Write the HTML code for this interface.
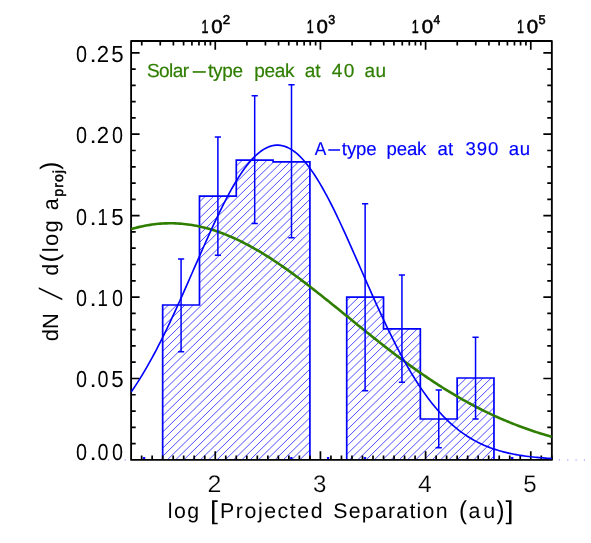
<!DOCTYPE html>
<html><head><meta charset="utf-8"><title>Separation distribution</title>
<style>html,body{margin:0;padding:0;background:#fff;}body{width:591px;height:543px;overflow:hidden;}svg{display:block;will-change:transform;}text{font-family:"Liberation Sans",sans-serif;text-rendering:geometricPrecision;}</style>
</head><body>
<svg width="591" height="543" viewBox="0 0 591 543">
<rect width="591" height="543" fill="#fff"/>
<defs>
<clipPath id="c0"><polygon points="162.67,459.90 162.67,305.00 199.48,305.00 199.48,196.10 236.29,196.10 236.29,160.10 273.10,160.10 273.10,161.80 309.91,161.80 309.91,459.90"/></clipPath>
<clipPath id="c1"><polygon points="346.72,459.90 346.72,297.20 383.53,297.20 383.53,328.80 420.34,328.80 420.34,419.00 457.15,419.00 457.15,378.00 493.96,378.00 493.96,459.90"/></clipPath>
<clipPath id="pc"><rect x="131.10" y="41.00" width="420.75" height="418.90"/></clipPath>
</defs>
<path clip-path="url(#c0)" d="M-100 -136.27L700 -917.47M-100 -128.18L700 -909.38M-100 -120.10L700 -901.30M-100 -112.01L700 -893.21M-100 -103.93L700 -885.13M-100 -95.84L700 -877.04M-100 -87.75L700 -868.95M-100 -79.67L700 -860.87M-100 -71.58L700 -852.78M-100 -63.50L700 -844.70M-100 -55.41L700 -836.61M-100 -47.32L700 -828.52M-100 -39.24L700 -820.44M-100 -31.15L700 -812.35M-100 -23.07L700 -804.27M-100 -14.98L700 -796.18M-100 -6.89L700 -788.09M-100 1.19L700 -780.01M-100 9.28L700 -771.92M-100 17.36L700 -763.84M-100 25.45L700 -755.75M-100 33.54L700 -747.66M-100 41.62L700 -739.58M-100 49.71L700 -731.49M-100 57.79L700 -723.41M-100 65.88L700 -715.32M-100 73.97L700 -707.23M-100 82.05L700 -699.15M-100 90.14L700 -691.06M-100 98.22L700 -682.98M-100 106.31L700 -674.89M-100 114.40L700 -666.80M-100 122.48L700 -658.72M-100 130.57L700 -650.63M-100 138.65L700 -642.55M-100 146.74L700 -634.46M-100 154.83L700 -626.37M-100 162.91L700 -618.29M-100 171.00L700 -610.20M-100 179.08L700 -602.12M-100 187.17L700 -594.03M-100 195.26L700 -585.94M-100 203.34L700 -577.86M-100 211.43L700 -569.77M-100 219.51L700 -561.69M-100 227.60L700 -553.60M-100 235.69L700 -545.51M-100 243.77L700 -537.43M-100 251.86L700 -529.34M-100 259.94L700 -521.26M-100 268.03L700 -513.17M-100 276.12L700 -505.08M-100 284.20L700 -497.00M-100 292.29L700 -488.91M-100 300.37L700 -480.83M-100 308.46L700 -472.74M-100 316.55L700 -464.65M-100 324.63L700 -456.57M-100 332.72L700 -448.48M-100 340.80L700 -440.40M-100 348.89L700 -432.31M-100 356.98L700 -424.22M-100 365.06L700 -416.14M-100 373.15L700 -408.05M-100 381.23L700 -399.97M-100 389.32L700 -391.88M-100 397.41L700 -383.79M-100 405.49L700 -375.71M-100 413.58L700 -367.62M-100 421.66L700 -359.54M-100 429.75L700 -351.45M-100 437.84L700 -343.36M-100 445.92L700 -335.28M-100 454.01L700 -327.19M-100 462.09L700 -319.11M-100 470.18L700 -311.02M-100 478.27L700 -302.93M-100 486.35L700 -294.85M-100 494.44L700 -286.76M-100 502.52L700 -278.68M-100 510.61L700 -270.59M-100 518.70L700 -262.50M-100 526.78L700 -254.42M-100 534.87L700 -246.33M-100 542.95L700 -238.25M-100 551.04L700 -230.16M-100 559.13L700 -222.07M-100 567.21L700 -213.99M-100 575.30L700 -205.90M-100 583.38L700 -197.82M-100 591.47L700 -189.73M-100 599.56L700 -181.64M-100 607.64L700 -173.56M-100 615.73L700 -165.47M-100 623.81L700 -157.39M-100 631.90L700 -149.30M-100 639.99L700 -141.21M-100 648.07L700 -133.13M-100 656.16L700 -125.04M-100 664.24L700 -116.96M-100 672.33L700 -108.87M-100 680.42L700 -100.78M-100 688.50L700 -92.70M-100 696.59L700 -84.61M-100 704.67L700 -76.53M-100 712.76L700 -68.44M-100 720.85L700 -60.35M-100 728.93L700 -52.27M-100 737.02L700 -44.18M-100 745.10L700 -36.10M-100 753.19L700 -28.01M-100 761.28L700 -19.92M-100 769.36L700 -11.84M-100 777.45L700 -3.75M-100 785.53L700 4.33M-100 793.62L700 12.42M-100 801.71L700 20.51M-100 809.79L700 28.59M-100 817.88L700 36.68M-100 825.96L700 44.76M-100 834.05L700 52.85M-100 842.14L700 60.94M-100 850.22L700 69.02M-100 858.31L700 77.11M-100 866.39L700 85.19M-100 874.48L700 93.28M-100 882.57L700 101.37M-100 890.65L700 109.45M-100 898.74L700 117.54M-100 906.82L700 125.62M-100 914.91L700 133.71M-100 923.00L700 141.80M-100 931.08L700 149.88M-100 939.17L700 157.97M-100 947.25L700 166.05M-100 955.34L700 174.14M-100 963.43L700 182.23M-100 971.51L700 190.31M-100 979.60L700 198.40M-100 987.68L700 206.48M-100 995.77L700 214.57M-100 1003.86L700 222.66M-100 1011.94L700 230.74M-100 1020.03L700 238.83M-100 1028.11L700 246.91M-100 1036.20L700 255.00M-100 1044.29L700 263.09M-100 1052.37L700 271.17M-100 1060.46L700 279.26M-100 1068.54L700 287.34M-100 1076.63L700 295.43M-100 1084.72L700 303.52M-100 1092.80L700 311.60M-100 1100.89L700 319.69M-100 1108.97L700 327.77M-100 1117.06L700 335.86M-100 1125.15L700 343.95M-100 1133.23L700 352.03M-100 1141.32L700 360.12M-100 1149.40L700 368.20M-100 1157.49L700 376.29M-100 1165.58L700 384.38M-100 1173.66L700 392.46M-100 1181.75L700 400.55M-100 1189.83L700 408.63M-100 1197.92L700 416.72M-100 1206.01L700 424.81M-100 1214.09L700 432.89M-100 1222.18L700 440.98M-100 1230.26L700 449.06M-100 1238.35L700 457.15M-100 1246.44L700 465.24M-100 1254.52L700 473.32M-100 1262.61L700 481.41M-100 1270.69L700 489.49M-100 1278.78L700 497.58M-100 1286.87L700 505.67M-100 1294.95L700 513.75M-100 1303.04L700 521.84M-100 1311.12L700 529.92M-100 1319.21L700 538.01M-100 1327.30L700 546.10M-100 1335.38L700 554.18M-100 1343.47L700 562.27M-100 1351.55L700 570.35M-100 1359.64L700 578.44M-100 1367.73L700 586.53M-100 1375.81L700 594.61M-100 1383.90L700 602.70M-100 1391.98L700 610.78" stroke="#0000ff" stroke-width="0.7" stroke-opacity="1" fill="none"/>
<path clip-path="url(#c1)" d="M-100 -136.27L700 -917.47M-100 -128.18L700 -909.38M-100 -120.10L700 -901.30M-100 -112.01L700 -893.21M-100 -103.93L700 -885.13M-100 -95.84L700 -877.04M-100 -87.75L700 -868.95M-100 -79.67L700 -860.87M-100 -71.58L700 -852.78M-100 -63.50L700 -844.70M-100 -55.41L700 -836.61M-100 -47.32L700 -828.52M-100 -39.24L700 -820.44M-100 -31.15L700 -812.35M-100 -23.07L700 -804.27M-100 -14.98L700 -796.18M-100 -6.89L700 -788.09M-100 1.19L700 -780.01M-100 9.28L700 -771.92M-100 17.36L700 -763.84M-100 25.45L700 -755.75M-100 33.54L700 -747.66M-100 41.62L700 -739.58M-100 49.71L700 -731.49M-100 57.79L700 -723.41M-100 65.88L700 -715.32M-100 73.97L700 -707.23M-100 82.05L700 -699.15M-100 90.14L700 -691.06M-100 98.22L700 -682.98M-100 106.31L700 -674.89M-100 114.40L700 -666.80M-100 122.48L700 -658.72M-100 130.57L700 -650.63M-100 138.65L700 -642.55M-100 146.74L700 -634.46M-100 154.83L700 -626.37M-100 162.91L700 -618.29M-100 171.00L700 -610.20M-100 179.08L700 -602.12M-100 187.17L700 -594.03M-100 195.26L700 -585.94M-100 203.34L700 -577.86M-100 211.43L700 -569.77M-100 219.51L700 -561.69M-100 227.60L700 -553.60M-100 235.69L700 -545.51M-100 243.77L700 -537.43M-100 251.86L700 -529.34M-100 259.94L700 -521.26M-100 268.03L700 -513.17M-100 276.12L700 -505.08M-100 284.20L700 -497.00M-100 292.29L700 -488.91M-100 300.37L700 -480.83M-100 308.46L700 -472.74M-100 316.55L700 -464.65M-100 324.63L700 -456.57M-100 332.72L700 -448.48M-100 340.80L700 -440.40M-100 348.89L700 -432.31M-100 356.98L700 -424.22M-100 365.06L700 -416.14M-100 373.15L700 -408.05M-100 381.23L700 -399.97M-100 389.32L700 -391.88M-100 397.41L700 -383.79M-100 405.49L700 -375.71M-100 413.58L700 -367.62M-100 421.66L700 -359.54M-100 429.75L700 -351.45M-100 437.84L700 -343.36M-100 445.92L700 -335.28M-100 454.01L700 -327.19M-100 462.09L700 -319.11M-100 470.18L700 -311.02M-100 478.27L700 -302.93M-100 486.35L700 -294.85M-100 494.44L700 -286.76M-100 502.52L700 -278.68M-100 510.61L700 -270.59M-100 518.70L700 -262.50M-100 526.78L700 -254.42M-100 534.87L700 -246.33M-100 542.95L700 -238.25M-100 551.04L700 -230.16M-100 559.13L700 -222.07M-100 567.21L700 -213.99M-100 575.30L700 -205.90M-100 583.38L700 -197.82M-100 591.47L700 -189.73M-100 599.56L700 -181.64M-100 607.64L700 -173.56M-100 615.73L700 -165.47M-100 623.81L700 -157.39M-100 631.90L700 -149.30M-100 639.99L700 -141.21M-100 648.07L700 -133.13M-100 656.16L700 -125.04M-100 664.24L700 -116.96M-100 672.33L700 -108.87M-100 680.42L700 -100.78M-100 688.50L700 -92.70M-100 696.59L700 -84.61M-100 704.67L700 -76.53M-100 712.76L700 -68.44M-100 720.85L700 -60.35M-100 728.93L700 -52.27M-100 737.02L700 -44.18M-100 745.10L700 -36.10M-100 753.19L700 -28.01M-100 761.28L700 -19.92M-100 769.36L700 -11.84M-100 777.45L700 -3.75M-100 785.53L700 4.33M-100 793.62L700 12.42M-100 801.71L700 20.51M-100 809.79L700 28.59M-100 817.88L700 36.68M-100 825.96L700 44.76M-100 834.05L700 52.85M-100 842.14L700 60.94M-100 850.22L700 69.02M-100 858.31L700 77.11M-100 866.39L700 85.19M-100 874.48L700 93.28M-100 882.57L700 101.37M-100 890.65L700 109.45M-100 898.74L700 117.54M-100 906.82L700 125.62M-100 914.91L700 133.71M-100 923.00L700 141.80M-100 931.08L700 149.88M-100 939.17L700 157.97M-100 947.25L700 166.05M-100 955.34L700 174.14M-100 963.43L700 182.23M-100 971.51L700 190.31M-100 979.60L700 198.40M-100 987.68L700 206.48M-100 995.77L700 214.57M-100 1003.86L700 222.66M-100 1011.94L700 230.74M-100 1020.03L700 238.83M-100 1028.11L700 246.91M-100 1036.20L700 255.00M-100 1044.29L700 263.09M-100 1052.37L700 271.17M-100 1060.46L700 279.26M-100 1068.54L700 287.34M-100 1076.63L700 295.43M-100 1084.72L700 303.52M-100 1092.80L700 311.60M-100 1100.89L700 319.69M-100 1108.97L700 327.77M-100 1117.06L700 335.86M-100 1125.15L700 343.95M-100 1133.23L700 352.03M-100 1141.32L700 360.12M-100 1149.40L700 368.20M-100 1157.49L700 376.29M-100 1165.58L700 384.38M-100 1173.66L700 392.46M-100 1181.75L700 400.55M-100 1189.83L700 408.63M-100 1197.92L700 416.72M-100 1206.01L700 424.81M-100 1214.09L700 432.89M-100 1222.18L700 440.98M-100 1230.26L700 449.06M-100 1238.35L700 457.15M-100 1246.44L700 465.24M-100 1254.52L700 473.32M-100 1262.61L700 481.41M-100 1270.69L700 489.49M-100 1278.78L700 497.58M-100 1286.87L700 505.67M-100 1294.95L700 513.75M-100 1303.04L700 521.84M-100 1311.12L700 529.92M-100 1319.21L700 538.01M-100 1327.30L700 546.10M-100 1335.38L700 554.18M-100 1343.47L700 562.27M-100 1351.55L700 570.35M-100 1359.64L700 578.44M-100 1367.73L700 586.53M-100 1375.81L700 594.61M-100 1383.90L700 602.70M-100 1391.98L700 610.78" stroke="#0000ff" stroke-width="0.7" stroke-opacity="1" fill="none"/>
<rect x="107.90" y="459.3" width="1.2" height="1.2" fill="#9a9aff"/><rect x="116.25" y="459.3" width="1.2" height="1.2" fill="#9a9aff"/><rect x="124.60" y="459.3" width="1.2" height="1.2" fill="#9a9aff"/><rect x="558.80" y="459.3" width="1.2" height="1.2" fill="#9a9aff"/><rect x="567.15" y="459.3" width="1.2" height="1.2" fill="#9a9aff"/><rect x="575.50" y="459.3" width="1.2" height="1.2" fill="#9a9aff"/><rect x="583.85" y="459.3" width="1.2" height="1.2" fill="#9a9aff"/>
<polyline points="162.67,459.90 162.67,305.00 199.48,305.00 199.48,196.10 236.29,196.10 236.29,160.10 273.10,160.10 273.10,161.80 309.91,161.80 309.91,459.90" fill="none" stroke="#0000ff" stroke-width="1.7" stroke-linejoin="miter"/>
<polyline points="346.72,459.90 346.72,297.20 383.53,297.20 383.53,328.80 420.34,328.80 420.34,419.00 457.15,419.00 457.15,378.00 493.96,378.00 493.96,459.90" fill="none" stroke="#0000ff" stroke-width="1.7" stroke-linejoin="miter"/>
<path d="M141.64 459.90L141.64 455.40M152.15 459.90L152.15 455.40M162.67 459.90L162.67 455.40M173.19 459.90L173.19 455.40M183.71 459.90L183.71 455.40M194.22 459.90L194.22 455.40M204.74 459.90L204.74 455.40M215.26 459.90L215.26 451.20M225.77 459.90L225.77 455.40M236.29 459.90L236.29 455.40M246.81 459.90L246.81 455.40M257.32 459.90L257.32 455.40M267.84 459.90L267.84 455.40M278.36 459.90L278.36 455.40M288.88 459.90L288.88 455.40M299.39 459.90L299.39 455.40M309.91 459.90L309.91 455.40M320.43 459.90L320.43 451.20M330.94 459.90L330.94 455.40M341.46 459.90L341.46 455.40M351.98 459.90L351.98 455.40M362.49 459.90L362.49 455.40M373.01 459.90L373.01 455.40M383.53 459.90L383.53 455.40M394.05 459.90L394.05 455.40M404.56 459.90L404.56 455.40M415.08 459.90L415.08 455.40M425.60 459.90L425.60 451.20M436.11 459.90L436.11 455.40M446.63 459.90L446.63 455.40M457.15 459.90L457.15 455.40M467.66 459.90L467.66 455.40M478.18 459.90L478.18 455.40M488.70 459.90L488.70 455.40M499.22 459.90L499.22 455.40M509.73 459.90L509.73 455.40M520.25 459.90L520.25 455.40M530.77 459.90L530.77 451.20M541.28 459.90L541.28 455.40M551.80 459.90L551.80 455.40M141.75 41.00L141.75 45.50M160.26 41.00L160.26 45.50M173.40 41.00L173.40 45.50M183.60 41.00L183.60 45.50M191.92 41.00L191.92 45.50M198.96 41.00L198.96 45.50M205.06 41.00L205.06 45.50M210.44 41.00L210.44 45.50M215.26 41.00L215.26 49.70M246.92 41.00L246.92 45.50M265.43 41.00L265.43 45.50M278.57 41.00L278.57 45.50M288.77 41.00L288.77 45.50M297.09 41.00L297.09 45.50M304.13 41.00L304.13 45.50M310.23 41.00L310.23 45.50M315.61 41.00L315.61 45.50M320.43 41.00L320.43 49.70M352.09 41.00L352.09 45.50M370.60 41.00L370.60 45.50M383.74 41.00L383.74 45.50M393.94 41.00L393.94 45.50M402.26 41.00L402.26 45.50M409.30 41.00L409.30 45.50M415.40 41.00L415.40 45.50M420.78 41.00L420.78 45.50M425.60 41.00L425.60 49.70M457.26 41.00L457.26 45.50M475.77 41.00L475.77 45.50M488.91 41.00L488.91 45.50M499.11 41.00L499.11 45.50M507.43 41.00L507.43 45.50M514.47 41.00L514.47 45.50M520.57 41.00L520.57 45.50M525.95 41.00L525.95 45.50M530.77 41.00L530.77 49.70M131.10 443.62L135.70 443.62M551.85 443.62L547.25 443.62M131.10 427.33L135.70 427.33M551.85 427.33L547.25 427.33M131.10 411.05L135.70 411.05M551.85 411.05L547.25 411.05M131.10 394.76L135.70 394.76M551.85 394.76L547.25 394.76M131.10 378.48L139.60 378.48M551.85 378.48L543.35 378.48M131.10 362.20L135.70 362.20M551.85 362.20L547.25 362.20M131.10 345.91L135.70 345.91M551.85 345.91L547.25 345.91M131.10 329.63L135.70 329.63M551.85 329.63L547.25 329.63M131.10 313.34L135.70 313.34M551.85 313.34L547.25 313.34M131.10 297.06L139.60 297.06M551.85 297.06L543.35 297.06M131.10 280.78L135.70 280.78M551.85 280.78L547.25 280.78M131.10 264.49L135.70 264.49M551.85 264.49L547.25 264.49M131.10 248.21L135.70 248.21M551.85 248.21L547.25 248.21M131.10 231.92L135.70 231.92M551.85 231.92L547.25 231.92M131.10 215.64L139.60 215.64M551.85 215.64L543.35 215.64M131.10 199.36L135.70 199.36M551.85 199.36L547.25 199.36M131.10 183.07L135.70 183.07M551.85 183.07L547.25 183.07M131.10 166.79L135.70 166.79M551.85 166.79L547.25 166.79M131.10 150.50L135.70 150.50M551.85 150.50L547.25 150.50M131.10 134.22L139.60 134.22M551.85 134.22L543.35 134.22M131.10 117.94L135.70 117.94M551.85 117.94L547.25 117.94M131.10 101.65L135.70 101.65M551.85 101.65L547.25 101.65M131.10 85.37L135.70 85.37M551.85 85.37L547.25 85.37M131.10 69.08L135.70 69.08M551.85 69.08L547.25 69.08M131.10 52.80L139.60 52.80M551.85 52.80L543.35 52.80" stroke="#000" stroke-width="1.7" fill="none"/>
<rect x="131.10" y="41.00" width="420.75" height="418.90" fill="none" stroke="#000" stroke-width="1.85" stroke-linejoin="round"/>
<g clip-path="url(#pc)">
<polyline points="131.12,229.07 133.22,228.47 135.33,227.91 137.43,227.38 139.53,226.88 141.64,226.41 143.74,225.97 145.84,225.57 147.95,225.20 150.05,224.86 152.15,224.55 154.26,224.28 156.36,224.04 158.46,223.83 160.57,223.66 162.67,223.52 164.77,223.41 166.88,223.34 168.98,223.30 171.08,223.30 173.19,223.32 175.29,223.38 177.39,223.48 179.50,223.61 181.60,223.77 183.71,223.96 185.81,224.19 187.91,224.45 190.02,224.74 192.12,225.07 194.22,225.43 196.33,225.82 198.43,226.24 200.53,226.70 202.64,227.19 204.74,227.71 206.84,228.26 208.95,228.85 211.05,229.46 213.15,230.11 215.26,230.78 217.36,231.49 219.46,232.23 221.57,232.99 223.67,233.79 225.77,234.61 227.88,235.47 229.98,236.35 232.08,237.26 234.19,238.20 236.29,239.16 238.39,240.15 240.50,241.17 242.60,242.22 244.70,243.29 246.81,244.38 248.91,245.50 251.01,246.65 253.12,247.82 255.22,249.01 257.32,250.23 259.43,251.46 261.53,252.72 263.63,254.00 265.74,255.31 267.84,256.63 269.94,257.97 272.05,259.33 274.15,260.72 276.25,262.12 278.36,263.53 280.46,264.97 282.56,266.42 284.67,267.89 286.77,269.37 288.88,270.87 290.98,272.39 293.08,273.92 295.19,275.46 297.29,277.02 299.39,278.58 301.50,280.16 303.60,281.75 305.70,283.36 307.81,284.97 309.91,286.59 312.01,288.22 314.12,289.86 316.22,291.51 318.32,293.17 320.43,294.83 322.53,296.50 324.63,298.18 326.74,299.86 328.84,301.55 330.94,303.24 333.05,304.93 335.15,306.63 337.25,308.33 339.36,310.03 341.46,311.74 343.56,313.45 345.67,315.15 347.77,316.86 349.87,318.57 351.98,320.27 354.08,321.98 356.18,323.68 358.29,325.39 360.39,327.09 362.49,328.78 364.60,330.48 366.70,332.17 368.80,333.85 370.91,335.53 373.01,337.21 375.11,338.88 377.22,340.54 379.32,342.20 381.42,343.85 383.53,345.50 385.63,347.14 387.73,348.77 389.84,350.39 391.94,352.00 394.05,353.60 396.15,355.20 398.25,356.79 400.36,358.36 402.46,359.93 404.56,361.49 406.67,363.03 408.77,364.57 410.87,366.09 412.98,367.60 415.08,369.10 417.18,370.59 419.29,372.07 421.39,373.54 423.49,374.99 425.60,376.43 427.70,377.86 429.80,379.27 431.91,380.67 434.01,382.06 436.11,383.43 438.22,384.80 440.32,386.14 442.42,387.48 444.53,388.79 446.63,390.10 448.73,391.39 450.84,392.67 452.94,393.93 455.04,395.18 457.15,396.41 459.25,397.63 461.35,398.83 463.46,400.02 465.56,401.19 467.66,402.35 469.77,403.49 471.87,404.62 473.97,405.74 476.08,406.84 478.18,407.92 480.28,408.99 482.39,410.05 484.49,411.08 486.59,412.11 488.70,413.12 490.80,414.11 492.90,415.09 495.01,416.06 497.11,417.01 499.22,417.95 501.32,418.87 503.42,419.77 505.53,420.67 507.63,421.54 509.73,422.41 511.84,423.26 513.94,424.09 516.04,424.91 518.15,425.72 520.25,426.51 522.35,427.29 524.46,428.06 526.56,428.81 528.66,429.55 530.77,430.27 532.87,430.99 534.97,431.68 537.08,432.37 539.18,433.04 541.28,433.70 543.39,434.35 545.49,434.99 547.59,435.61 549.70,436.22 551.80,436.82" fill="none" stroke="#2f7e00" stroke-width="2.6"/>
<polyline points="131.12,392.01 133.22,388.97 135.33,385.84 137.43,382.62 139.53,379.32 141.64,375.92 143.74,372.44 145.84,368.87 147.95,365.21 150.05,361.47 152.15,357.65 154.26,353.75 156.36,349.77 158.46,345.71 160.57,341.57 162.67,337.37 164.77,333.09 166.88,328.75 168.98,324.35 171.08,319.89 173.19,315.37 175.29,310.80 177.39,306.18 179.50,301.53 181.60,296.83 183.71,292.10 185.81,287.35 187.91,282.57 190.02,277.78 192.12,272.97 194.22,268.16 196.33,263.36 198.43,258.55 200.53,253.77 202.64,249.00 204.74,244.26 206.84,239.55 208.95,234.88 211.05,230.26 213.15,225.70 215.26,221.19 217.36,216.75 219.46,212.39 221.57,208.11 223.67,203.91 225.77,199.81 227.88,195.82 229.98,191.93 232.08,188.16 234.19,184.51 236.29,180.99 238.39,177.60 240.50,174.35 242.60,171.25 244.70,168.30 246.81,165.50 248.91,162.87 251.01,160.41 253.12,158.11 255.22,156.00 257.32,154.06 259.43,152.30 261.53,150.73 263.63,149.35 265.74,148.16 267.84,147.16 269.94,146.37 272.05,145.76 274.15,145.36 276.25,145.16 278.36,145.15 280.46,145.35 282.56,145.74 284.67,146.34 286.77,147.13 288.88,148.12 290.98,149.30 293.08,150.67 295.19,152.23 297.29,153.98 299.39,155.91 301.50,158.03 303.60,160.31 305.70,162.77 307.81,165.40 309.91,168.18 312.01,171.13 314.12,174.22 316.22,177.47 318.32,180.85 320.43,184.37 322.53,188.01 324.63,191.78 326.74,195.66 328.84,199.65 330.94,203.75 333.05,207.94 335.15,212.22 337.25,216.58 339.36,221.01 341.46,225.51 343.56,230.08 345.67,234.70 347.77,239.36 349.87,244.07 351.98,248.81 354.08,253.58 356.18,258.36 358.29,263.16 360.39,267.97 362.49,272.78 364.60,277.59 366.70,282.38 368.80,287.16 370.91,291.92 373.01,296.64 375.11,301.34 377.22,306.00 379.32,310.62 381.42,315.19 383.53,319.71 385.63,324.17 387.73,328.58 389.84,332.92 391.94,337.20 394.05,341.40 396.15,345.54 398.25,349.60 400.36,353.59 402.46,357.50 404.56,361.32 406.67,365.07 408.77,368.72 410.87,372.30 412.98,375.78 415.08,379.18 417.18,382.49 419.29,385.72 421.39,388.85 423.49,391.89 425.60,394.85 427.70,397.71 429.80,400.49 431.91,403.18 434.01,405.78 436.11,408.30 438.22,410.73 440.32,413.07 442.42,415.34 444.53,417.51 446.63,419.61 448.73,421.63 450.84,423.57 452.94,425.44 455.04,427.23 457.15,428.94 459.25,430.59 461.35,432.16 463.46,433.67 465.56,435.11 467.66,436.48 469.77,437.80 471.87,439.05 473.97,440.25 476.08,441.39 478.18,442.47 480.28,443.50 482.39,444.48 484.49,445.41 486.59,446.29 488.70,447.13 490.80,447.92 492.90,448.67 495.01,449.38 497.11,450.05 499.22,450.69 501.32,451.29 503.42,451.85 505.53,452.39 507.63,452.89 509.73,453.36 511.84,453.81 513.94,454.22 516.04,454.62 518.15,454.99 520.25,455.33 522.35,455.66 524.46,455.96 526.56,456.24 528.66,456.51 530.77,456.76 532.87,456.99 534.97,457.21 537.08,457.41 539.18,457.60 541.28,457.77 543.39,457.94 545.49,458.09 547.59,458.23 549.70,458.36 551.80,458.48" fill="none" stroke="#0000ff" stroke-width="1.65"/>
</g>
<path d="M181.08 258.90L181.08 351.80M177.98 258.90L184.18 258.90M177.98 351.80L184.18 351.80M217.89 137.10L217.89 255.20M214.79 137.10L220.99 137.10M214.79 255.20L220.99 255.20M254.69 95.80L254.69 223.40M251.59 95.80L257.79 95.80M251.59 223.40L257.79 223.40M291.50 84.80L291.50 237.80M288.40 84.80L294.60 84.80M288.40 237.80L294.60 237.80M365.12 203.80L365.12 390.70M362.02 203.80L368.22 203.80M362.02 390.70L368.22 390.70M401.93 275.10L401.93 382.30M398.83 275.10L405.03 275.10M398.83 382.30L405.03 382.30M438.74 389.90L438.74 447.80M435.64 389.90L441.84 389.90M435.64 447.80L441.84 447.80M475.55 337.30L475.55 419.10M472.45 337.30L478.65 337.30M472.45 419.10L478.65 419.10" stroke="#0000ff" stroke-width="1.5" fill="none"/>
<rect x="142.87" y="456.9" width="2.4" height="2.2" rx="0.6" fill="#0000ff"/>
<rect x="290.10" y="456.9" width="2.4" height="2.2" rx="0.6" fill="#0000ff"/>
<rect x="326.91" y="456.9" width="2.4" height="2.2" rx="0.6" fill="#0000ff"/>
<rect x="363.72" y="456.9" width="2.4" height="2.2" rx="0.6" fill="#0000ff"/>
<rect x="510.96" y="456.9" width="2.4" height="2.2" rx="0.6" fill="#0000ff"/>
<g><text transform="translate(75.96,460.40) scale(0.8496,1)" font-size="23.30" fill="#000">0</text><text transform="translate(89.46,460.40) scale(1.1159,1)" font-size="23.30" fill="#000">.</text><text transform="translate(97.56,460.40) scale(0.8496,1)" font-size="23.30" fill="#000">0</text><text transform="translate(112.01,460.40) scale(0.8496,1)" font-size="23.30" fill="#000">0</text></g>
<g><text transform="translate(75.96,387.48) scale(0.8496,1)" font-size="23.30" fill="#000">0</text><text transform="translate(89.46,387.48) scale(1.1159,1)" font-size="23.30" fill="#000">.</text><text transform="translate(97.56,387.48) scale(0.8496,1)" font-size="23.30" fill="#000">0</text><text transform="translate(111.21,387.48) scale(0.9567,1)" font-size="23.30" fill="#000">5</text></g>
<g><text transform="translate(75.96,306.06) scale(0.8496,1)" font-size="23.30" fill="#000">0</text><text transform="translate(89.46,306.06) scale(1.1159,1)" font-size="23.30" fill="#000">.</text><text transform="translate(97.60,306.06) scale(0.7998,1)" font-size="23.30" fill="#000">1</text><text transform="translate(112.01,306.06) scale(0.8496,1)" font-size="23.30" fill="#000">0</text></g>
<g><text transform="translate(75.96,224.64) scale(0.8496,1)" font-size="23.30" fill="#000">0</text><text transform="translate(89.46,224.64) scale(1.1159,1)" font-size="23.30" fill="#000">.</text><text transform="translate(97.60,224.64) scale(0.7998,1)" font-size="23.30" fill="#000">1</text><text transform="translate(111.21,224.64) scale(0.9567,1)" font-size="23.30" fill="#000">5</text></g>
<g><text transform="translate(75.96,143.22) scale(0.8496,1)" font-size="23.30" fill="#000">0</text><text transform="translate(89.46,143.22) scale(1.1159,1)" font-size="23.30" fill="#000">.</text><text transform="translate(96.79,143.22) scale(0.9517,1)" font-size="23.30" fill="#000">2</text><text transform="translate(112.01,143.22) scale(0.8496,1)" font-size="23.30" fill="#000">0</text></g>
<g><text transform="translate(75.96,61.80) scale(0.8496,1)" font-size="23.30" fill="#000">0</text><text transform="translate(89.46,61.80) scale(1.1159,1)" font-size="23.30" fill="#000">.</text><text transform="translate(96.79,61.80) scale(0.9517,1)" font-size="23.30" fill="#000">2</text><text transform="translate(111.21,61.80) scale(0.9567,1)" font-size="23.30" fill="#000">5</text></g>
<text transform="translate(207.56,491.80) scale(1.0417,1)" font-size="24.00" fill="#000" stroke="#fff" stroke-width="0.25">2</text>
<text transform="translate(313.10,491.80) scale(1.0034,1)" font-size="24.00" fill="#000" stroke="#fff" stroke-width="0.25">3</text>
<text transform="translate(418.10,491.80) scale(1.0294,1)" font-size="24.00" fill="#000" stroke="#fff" stroke-width="0.25">4</text>
<text transform="translate(523.30,491.80) scale(1.0069,1)" font-size="24.00" fill="#000" stroke="#fff" stroke-width="0.25">5</text>
<g><text transform="translate(201.53,33.30) scale(0.6649,1)" font-size="18.80" fill="#000" stroke="#000" stroke-width="0.55">1</text><text transform="translate(211.29,33.30) scale(1.0855,1)" font-size="18.80" fill="#000" stroke="#000" stroke-width="0.55">0</text><text transform="translate(222.84,24.30) scale(1.0360,1)" font-size="12.80" fill="#000" stroke="#000" stroke-width="0.55">2</text></g>
<g><text transform="translate(306.70,33.30) scale(0.6649,1)" font-size="18.80" fill="#000" stroke="#000" stroke-width="0.55">1</text><text transform="translate(316.46,33.30) scale(1.0855,1)" font-size="18.80" fill="#000" stroke="#000" stroke-width="0.55">0</text><text transform="translate(328.30,24.30) scale(0.9726,1)" font-size="12.80" fill="#000" stroke="#000" stroke-width="0.55">3</text></g>
<g><text transform="translate(411.87,33.30) scale(0.6649,1)" font-size="18.80" fill="#000" stroke="#000" stroke-width="0.55">1</text><text transform="translate(421.63,33.30) scale(1.0855,1)" font-size="18.80" fill="#000" stroke="#000" stroke-width="0.55">0</text><text transform="translate(433.60,24.30) scale(0.9344,1)" font-size="12.80" fill="#000" stroke="#000" stroke-width="0.55">4</text></g>
<g><text transform="translate(517.04,33.30) scale(0.6649,1)" font-size="18.80" fill="#000" stroke="#000" stroke-width="0.55">1</text><text transform="translate(526.80,33.30) scale(1.0855,1)" font-size="18.80" fill="#000" stroke="#000" stroke-width="0.55">0</text><text transform="translate(538.50,24.30) scale(0.9928,1)" font-size="12.80" fill="#000" stroke="#000" stroke-width="0.55">5</text></g>
<g><text transform="translate(167.82,517.80)" font-size="21.30" letter-spacing="1.475" fill="#000">log</text> <text transform="translate(210.00,519.00) scale(1.1058,1)" font-size="25.77" fill="#000">[</text><text transform="translate(220.10,517.80)" font-size="21.30" letter-spacing="1.552" fill="#000">Projected</text> <text transform="translate(333.35,517.80)" font-size="21.30" letter-spacing="1.236" fill="#000">Separation</text> <text transform="translate(459.06,519.00) scale(0.9341,1)" font-size="25.77" fill="#000">(</text><text transform="translate(468.55,517.80)" font-size="21.30" letter-spacing="2.969" fill="#000">au</text><text transform="translate(496.40,519.00) scale(0.9284,1)" font-size="25.77" fill="#000">)</text><text transform="translate(505.60,519.00) scale(1.1271,1)" font-size="25.77" fill="#000">]</text></g>
<g transform="translate(57.7,340.3) rotate(-90)"><text transform="translate(-0.88,0.00)" font-size="22.00" letter-spacing="0.045" fill="#000">dN</text> <text transform="translate(40.10,4.60) skewX(-16.5) scale(1,1.46)" font-size="22.00" fill="#000">/</text> <text transform="translate(64.87,0.00) scale(0.9486,1)" font-size="22.00" fill="#000">d</text><text transform="translate(77.72,0.50) scale(1.0394,1)" font-size="25.30" fill="#000">(</text><text transform="translate(87.98,0.00)" font-size="22.00" letter-spacing="1.348" fill="#000">log</text> <text transform="translate(130.05,0.00) scale(0.9703,1)" font-size="22.00" fill="#000">a</text><text transform="translate(143.54,5.60)" font-size="14.30" letter-spacing="0.967" fill="#000" stroke="#000" stroke-width="0.5">proj</text><text transform="translate(170.60,0.50) scale(0.9458,1)" font-size="25.30" fill="#000">)</text></g>
<g><text transform="translate(146.94,77.00)" font-size="19.00" letter-spacing="-0.562" fill="#2f7e00" stroke="#2f7e00" stroke-width="0.2">Solar</text><text transform="translate(190.77,77.00) scale(2.6737,1)" font-size="19.00" fill="#2f7e00" stroke="#2f7e00" stroke-width="0.2">-</text><text transform="translate(208.01,77.00)" font-size="19.00" letter-spacing="-0.312" fill="#2f7e00" stroke="#2f7e00" stroke-width="0.2">type</text> <text transform="translate(254.16,77.00)" font-size="19.00" letter-spacing="-0.284" fill="#2f7e00" stroke="#2f7e00" stroke-width="0.2">peak</text> <text transform="translate(304.64,77.00)" font-size="19.00" letter-spacing="0.073" fill="#2f7e00" stroke="#2f7e00" stroke-width="0.2">at</text> <text transform="translate(331.72,77.00)" font-size="19.00" letter-spacing="1.533" fill="#2f7e00" stroke="#2f7e00" stroke-width="0.2">40</text> <text transform="translate(364.44,77.00)" font-size="19.00" letter-spacing="0.483" fill="#2f7e00" stroke="#2f7e00" stroke-width="0.2">au</text> </g>
<g><text transform="translate(314.70,155.20) scale(0.9308,1)" font-size="18.60" fill="#0000ff" stroke="#0000ff" stroke-width="0.15">A</text><text transform="translate(326.54,155.20) scale(2.4946,1)" font-size="18.60" fill="#0000ff" stroke="#0000ff" stroke-width="0.15">-</text><text transform="translate(341.81,155.20)" font-size="18.60" letter-spacing="-0.099" fill="#0000ff" stroke="#0000ff" stroke-width="0.15">type</text> <text transform="translate(386.48,155.20)" font-size="18.60" letter-spacing="-0.134" fill="#0000ff" stroke="#0000ff" stroke-width="0.15">peak</text> <text transform="translate(437.46,155.20)" font-size="18.60" letter-spacing="0.092" fill="#0000ff" stroke="#0000ff" stroke-width="0.15">at</text> <text transform="translate(465.54,155.20)" font-size="18.60" letter-spacing="0.949" fill="#0000ff" stroke="#0000ff" stroke-width="0.15">390</text> <text transform="translate(508.66,155.20)" font-size="18.60" letter-spacing="0.786" fill="#0000ff" stroke="#0000ff" stroke-width="0.15">au</text> </g>
</svg></body></html>
